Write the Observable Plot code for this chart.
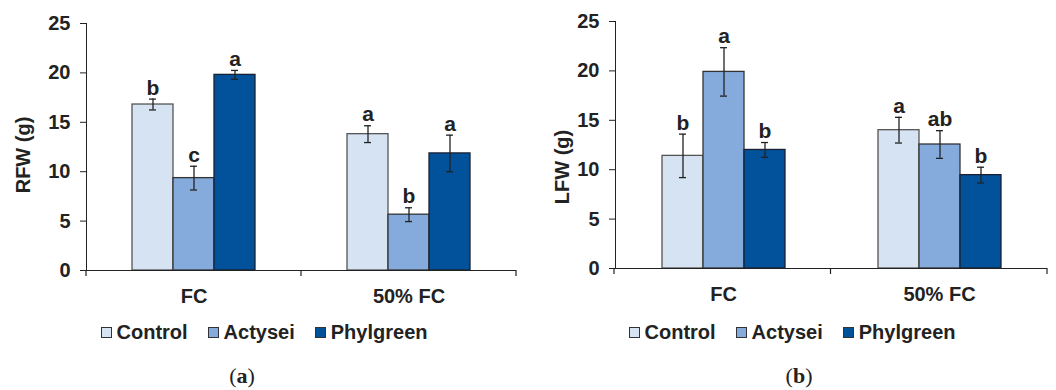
<!DOCTYPE html>
<html>
<head>
<meta charset="utf-8">
<script src="https://cdn.jsdelivr.net/npm/d3@7"></script>
<script src="https://cdn.jsdelivr.net/npm/@observablehq/plot@0.6"></script>
<style>
  html, body { margin: 0; padding: 0; background: #fff; }
  #wrap { display: flex; width: 1056px; height: 390px; overflow: hidden; }
  .panel { width: 528px; position: relative; }
  .legend { height: 44px; display: flex; justify-content: center; align-items: center;
    font-family: "Liberation Sans", Arial, sans-serif; font-weight: bold; font-size: 20px; color: #222; }
  .legend .item { display: flex; align-items: center; margin: 0 10px; }
  .legend .sw { width: 9px; height: 9px; border: 1px solid #333; margin-right: 5px; }
  .caption { font-family: "Liberation Serif", "DejaVu Serif", serif; font-size: 22px; color: #222;
    text-align: center; line-height: 24px; margin-top: 10px; position: relative; }
  .caption b { font-weight: bold; }
</style>
</head>
<body>
<div id="wrap">
  <div class="panel" id="pa"></div>
  <div class="panel" id="pb"></div>
</div>
<script>
// ---- data ----
const conditions = ["FC", "50% FC"];
const treatments = ["Control", "Actysei", "Phylgreen"];
// order: FC (Control, Actysei, Phylgreen), 50% FC (Control, Actysei, Phylgreen)
const rfwMean = [16.8, 9.35, 19.8, 13.8, 5.65, 11.85];
const rfwErr = [0.55, 1.2, 0.45, 0.85, 0.7, 1.85];
const rfwLetters = ["b", "c", "a", "a", "b", "a"];
const lfwMean = [11.4, 19.9, 12.0, 14.0, 12.55, 9.45];
const lfwErr = [2.2, 2.45, 0.75, 1.3, 1.4, 0.8];
const lfwLetters = ["b", "a", "b", "a", "ab", "b"];
const yTicks = [0, 5, 10, 15, 20, 25];

const fills = ["#D6E3F3", "#84ABDC", "#01529B"];
const strokes = ["#555555", "#333333", "#1a2233"];

function makeRows(means, errs, letters) {
  const rows = [];
  conditions.forEach((c, i) => treatments.forEach((t, j) => {
    const k = i * treatments.length + j;
    rows.push({condition: c, treatment: t, mean: means[k], err: errs[k], letter: letters[k]});
  }));
  return rows;
}

function panel(el, means, errs, letters, ylabel, opts) {
  const data = makeRows(means, errs, letters);
  const chart = Plot.plot({
    width: 528,
    height: 310,
    marginLeft: 86,
    marginRight: opts.mr,
    marginTop: opts.mt,
    marginBottom: opts.mb,
    style: {fontFamily: "'Liberation Sans', Arial, sans-serif", fontSize: "20px", fontWeight: "bold", color: "#222", background: "white", overflow: "visible"},
    facet: {data, x: "condition"},
    fx: {domain: conditions, padding: 0, label: null, tickSize: 0, tickPadding: 18},
    x: {domain: treatments, paddingInner: 0, paddingOuter: 1.09, axis: null},
    y: {domain: [0, 25], ticks: yTicks, line: true, label: null, tickSize: 6, tickPadding: 10},
    marks: [
      ...treatments.map((t, j) => Plot.barY(data, {
        filter: d => d.treatment === t,
        x: "treatment", y: "mean", fill: fills[j], stroke: strokes[j], strokeWidth: 1.3
      })),
      Plot.ruleY([0], {stroke: "#222", strokeWidth: 1.2}),
      Plot.ruleX(data, {x: "treatment", y1: d => d.mean - d.err, y2: d => d.mean + d.err, stroke: "#222", strokeWidth: 1.3}),
      Plot.tickY(data, {x: "treatment", y: d => d.mean + d.err, insetLeft: 17, insetRight: 17, stroke: "#222", strokeWidth: 1.3}),
      Plot.tickY(data, {x: "treatment", y: d => d.mean - d.err, insetLeft: 17, insetRight: 17, stroke: "#222", strokeWidth: 1.3}),
      Plot.text(data, {x: "treatment", y: d => d.mean + d.err, text: "letter", dy: -11,
        fontSize: 21, fontWeight: "bold", fill: "#222"})
    ]
  });
  const svg = d3.select(chart);
  // ticks at group boundaries along the x baseline
  try {
    const fxs = chart.scale("fx");
    const ys = chart.scale("y");
    const band = d3.scaleBand().domain(fxs.domain).range(fxs.range)
      .paddingInner(fxs.paddingInner ?? 0).paddingOuter(fxs.paddingOuter ?? 0).align(fxs.align ?? 0.5);
    const yLin = d3.scaleLinear().domain(ys.domain).range(ys.range);
    const y0 = yLin(0);
    const xs = band.domain().map(d => band(d));
    xs.push(band(band.domain()[band.domain().length - 1]) + band.bandwidth());
    svg.append("g").selectAll("line").data(xs).join("line")
      .attr("x1", d => d).attr("x2", d => d)
      .attr("y1", y0).attr("y2", y0 + 6)
      .attr("stroke", "#222").attr("stroke-width", 1.2);
  } catch (e) { console.error(e); }
  // y axis title
  svg.append("text")
    .attr("transform", `translate(${opts.labX},${opts.labY}) rotate(-90)`)
    .attr("text-anchor", "middle").attr("dy", "0.35em")
    .attr("fill", "#222").attr("font-size", 20).attr("font-weight", "bold")
    .text(ylabel);
  el.appendChild(chart);

  const legend = document.createElement("div");
  legend.className = "legend";
  treatments.forEach((t, j) => {
    const item = document.createElement("div");
    item.className = "item";
    const sw = document.createElement("span");
    sw.className = "sw";
    sw.style.background = fills[j];
    const lab = document.createElement("span");
    lab.textContent = t;
    item.appendChild(sw);
    item.appendChild(lab);
    legend.appendChild(item);
  });
  el.appendChild(legend);

  const cap = document.createElement("div");
  cap.className = "caption";
  cap.style.left = opts.capShift + "px";
  cap.innerHTML = "(<b>" + opts.tag + "</b>)";
  el.appendChild(cap);
}

panel(document.getElementById("pa"), rfwMean, rfwErr, rfwLetters, "RFW (g)", {mr: 12, mt: 23, mb: 40, tag: "a", capShift: -22, labX: 23, labY: 155});
panel(document.getElementById("pb"), lfwMean, lfwErr, lfwLetters, "LFW (g)", {mr: 9, mt: 21, mb: 42, tag: "b", capShift: 7, labX: 34, labY: 167});
</script>
</body>
</html>
